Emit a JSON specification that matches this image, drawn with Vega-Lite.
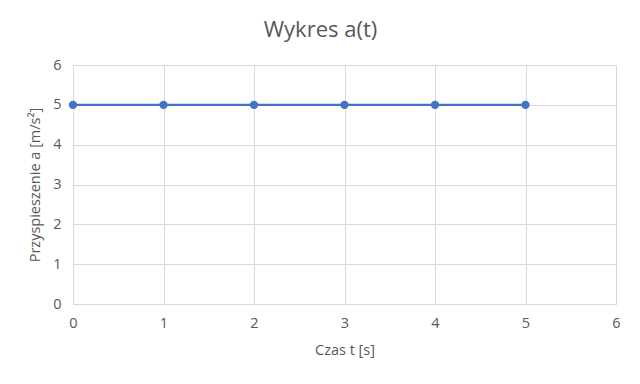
{
  "$schema": "https://vega.github.io/schema/vega-lite/v6.json",
  "autosize": {"type": "none"},
  "width": 543,
  "height": 239,
  "padding": {"left": 73, "top": 65, "right": 24, "bottom": 80},
  "background": "white",
  "title": {
    "text": "Wykres a(t)",
    "fontSize": 22,
    "font": "Open Sans",
    "fontWeight": "normal",
    "color": "#595959",
    "anchor": "middle",
    "dx": -24,
    "offset": 15
  },
  "config": {
    "view": {"stroke": "#d9d9d9"},
    "axis": {
      "labelFont": "Open Sans",
      "titleFont": "Open Sans",
      "labelFontSize": 14.5,
      "titleFontSize": 14.5,
      "labelColor": "#595959",
      "titleColor": "#595959",
      "titleFontWeight": "normal",
      "gridColor": "#d9d9d9",
      "gridWidth": 1,
      "domain": false,
      "ticks": false
    }
  },
  "data": {
    "values": [
      {"t": 0, "a": 5},
      {"t": 1, "a": 5},
      {"t": 2, "a": 5},
      {"t": 3, "a": 5},
      {"t": 4, "a": 5},
      {"t": 5, "a": 5}
    ]
  },
  "mark": {"type": "line", "color": "#4472C4", "strokeWidth": 2.25, "point": {"filled": true, "size": 70, "color": "#4472C4"}},
  "encoding": {
    "x": {
      "field": "t",
      "type": "quantitative",
      "scale": {"domain": [0, 6], "nice": false},
      "axis": {"values": [0, 1, 2, 3, 4, 5, 6], "title": "Czas t [s]", "labelPadding": 12, "titlePadding": 14, "labelFlush": false}
    },
    "y": {
      "field": "a",
      "type": "quantitative",
      "scale": {"domain": [0, 6], "nice": false},
      "axis": {"values": [0, 1, 2, 3, 4, 5, 6], "title": "Przyspieszenie a [m/s²]", "labelPadding": 12, "titlePadding": 10, "labelFlush": false}
    }
  }
}
